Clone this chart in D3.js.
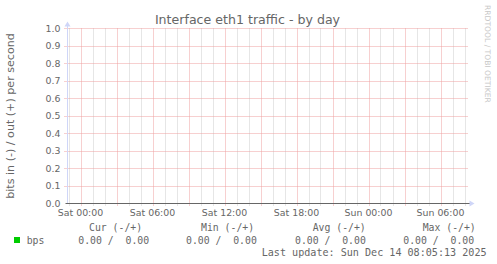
<!DOCTYPE html>
<html><head><meta charset="utf-8">
<script src="https://cdn.jsdelivr.net/npm/d3@7"></script>
<style>
html,body{margin:0;padding:0;background:#fff;}
svg{display:block;}
</style></head>
<body>
<svg id="c" width="497" height="264"></svg>
<script>
// ---- data ----
const title = "Interface eth1 traffic - by day";
const yLabel = "bits in (-) / out (+) per second";
const watermark = "RRDTOOL / TOBI OETIKER";
const timeDomain = ["2025-12-12T22:55:00", "2025-12-14T08:15:00"];
const sampleTimes = ["2025-12-12T22:55:00","2025-12-13T06:00:00","2025-12-13T12:00:00","2025-12-13T18:00:00","2025-12-14T00:00:00","2025-12-14T06:00:00","2025-12-14T08:05:00"];
const bpsOut = [0,0,0,0,0,0,0];
const bpsIn  = [0,0,0,0,0,0,0];
const yTicks = [0,0.1,0.2,0.3,0.4,0.5,0.6,0.7,0.8,0.9,1.0];
const legendHeaders = ["Cur (-/+)","Min (-/+)","Avg (-/+)","Max (-/+)"];
const legendSeries = ["bps"];
const legendValues = ["0.00 /  0.00","0.00 /  0.00","0.00 /  0.00","0.00 /  0.00"];
const lastUpdate = "Last update: Sun Dec 14 08:05:13 2025";

// ---- layout ----
const svg = d3.select("#c");
const L = 67.5, R = 467.5, T = 28.5, B = 203.5;
const parse = d3.isoParse;
const x = d3.scaleTime().domain(timeDomain.map(parse)).range([L, R]);
const y = d3.scaleLinear().domain([0, 1]).range([B, T]);
const sans = "'DejaVu Sans', sans-serif";
const mono = "'DejaVu Sans Mono', monospace";

const hours = d3.timeHour.every(1).range(x.domain()[0], x.domain()[1]);
const majors = hours.filter(d => d.getHours() % 3 === 0);
const minors = hours.filter(d => d.getHours() % 3 !== 0);
const g = svg.append("g");
g.selectAll(".mn").data(minors).join("line")
  .attr("x1", d => Math.round(x(d)) + 0.5).attr("x2", d => Math.round(x(d)) + 0.5)
  .attr("y1", T).attr("y2", B + 2)
  .attr("stroke", "#cccccc").attr("stroke-width", 1).attr("stroke-dasharray", "1,1");
g.selectAll(".hy").data(yTicks.filter(v => v > 0)).join("line")
  .attr("x1", L - 3).attr("x2", R + 1)
  .attr("y1", d => Math.round(y(d) - 0.5) + 0.5).attr("y2", d => Math.round(y(d) - 0.5) + 0.5)
  .attr("stroke", "#eea0a0").attr("stroke-width", 1).attr("stroke-dasharray", "1,1");
g.selectAll(".mj").data(majors).join("line")
  .attr("x1", d => Math.round(x(d)) + 0.5).attr("x2", d => Math.round(x(d)) + 0.5)
  .attr("y1", T).attr("y2", B + 3)
  .attr("stroke", "#eea0a0").attr("stroke-width", 1).attr("stroke-dasharray", "1,1");

// data lines (zero traffic)
const pts = sampleTimes.map((t, i) => ({t: parse(t), o: bpsOut[i], n: -bpsIn[i]}));
const line = key => d3.line().x(d => x(d.t)).y(d => y(d[key]));
svg.append("path").datum(pts).attr("d", line("o")).attr("fill", "none").attr("stroke", "#00cc00").attr("stroke-width", 1);
svg.append("path").datum(pts).attr("d", line("n")).attr("fill", "none").attr("stroke", "#00cc00").attr("stroke-width", 1);

// axes
svg.append("line").attr("x1", L).attr("x2", L).attr("y1", B).attr("y2", T - 5)
  .attr("stroke", "#cfd6f8").attr("stroke-width", 1);
svg.append("path").attr("d", `M${L-3},${T-2} L${L+3},${T-2} L${L},${T-7} Z`).attr("fill", "#cfd6f8");
svg.append("line").attr("x1", L - 2).attr("x2", R + 3).attr("y1", B).attr("y2", B)
  .attr("stroke", "#666").attr("stroke-width", 1);
svg.append("path").attr("d", `M${R+2},${B-3} L${R+2},${B+3} L${R+7},${B} Z`).attr("fill", "#cfd6f8");

// y tick labels
svg.selectAll(".yl").data(yTicks).join("text")
  .attr("x", 60.5).attr("y", d => y(d) + 3.4)
  .attr("text-anchor", "end").attr("font-family", sans).attr("font-size", 9.4)
  .attr("fill", "#666").text(d => d3.format(".1f")(d));
// x tick labels
const labTicks = hours.filter(d => d.getHours() % 6 === 0);
const fmt = d3.timeFormat("%a %H:%M");
svg.selectAll(".xl").data(labTicks).join("text")
  .attr("x", d => x(d)).attr("y", 215.5)
  .attr("text-anchor", "middle").attr("font-family", sans).attr("font-size", 9.4)
  .attr("fill", "#666").text(d => fmt(d));

// title
svg.append("text").attr("x", 247.5).attr("y", 24).attr("text-anchor", "middle")
  .attr("font-family", sans).attr("font-size", 12.6).attr("fill", "#666").text(title);
// y label
svg.append("text").attr("transform", `translate(13.5,${(T+B)/2}) rotate(-90)`)
  .attr("text-anchor", "middle").attr("font-family", sans).attr("font-size", 11.1)
  .attr("fill", "#666").text(yLabel);
// watermark
svg.append("text").attr("transform", "translate(485,5) rotate(90)")
  .attr("font-family", sans).attr("font-size", 7.6).attr("fill", "#c8c8c8").text(watermark);

// legend
const hdrX = [89, 201, 312.7, 422.7];
const valX = [78.3, 186, 295, 403.3];
svg.selectAll(".lh").data(legendHeaders).join("text")
  .attr("x", (d, i) => hdrX[i]).attr("y", 231)
  .attr("font-family", mono).attr("font-size", 9.8).attr("fill", "#666")
  .style("white-space", "pre").text(d => d);
svg.append("rect").attr("x", 14).attr("y", 237).attr("width", 6).attr("height", 6).attr("fill", "#00cc00");
svg.append("text").attr("x", 26.7).attr("y", 243.8).attr("font-family", mono).attr("font-size", 9.8)
  .attr("fill", "#666").text(legendSeries[0]);
svg.selectAll(".lv").data(legendValues).join("text")
  .attr("x", (d, i) => valX[i]).attr("y", 243.8)
  .attr("font-family", mono).attr("font-size", 9.8).attr("fill", "#666")
  .style("white-space", "pre").text(d => d);
svg.append("text").attr("x", 261.7).attr("y", 256).attr("font-family", mono).attr("font-size", 10.1)
  .attr("fill", "#666").style("white-space", "pre").text(lastUpdate);
</script>
</body></html>
